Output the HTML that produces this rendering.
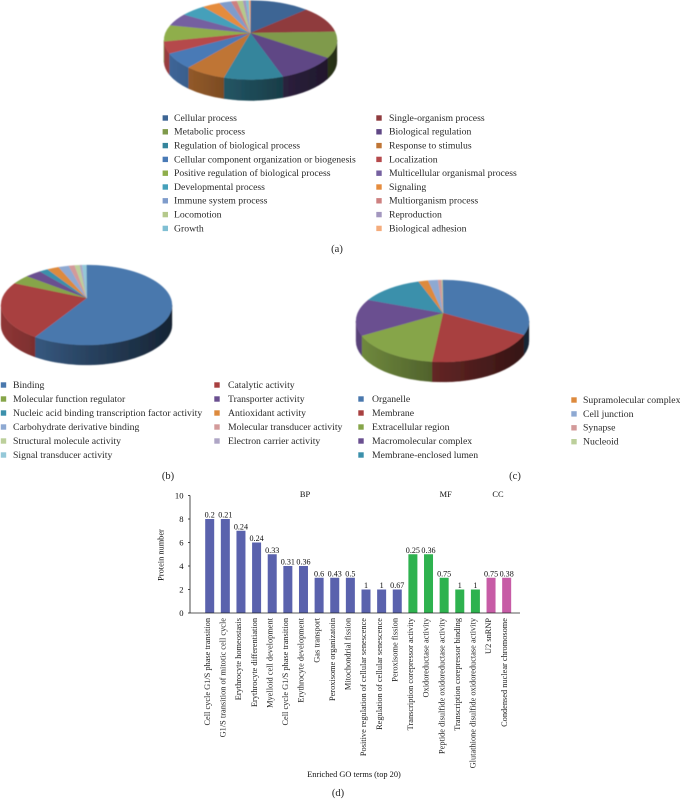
<!DOCTYPE html>
<html lang="en">
<head>
<meta charset="utf-8">
<title>GO enrichment charts</title>
<style>
html,body{margin:0;padding:0;background:#fff;width:680px;height:809px;overflow:hidden}
svg{display:block;font-family:"Liberation Serif",serif;fill:#222}
</style>
</head>
<body>
<svg id="fig" xmlns="http://www.w3.org/2000/svg" width="680" height="809" viewBox="0 0 680 809">
<defs>
<filter id="soft" x="-5%" y="-5%" width="110%" height="110%"><feGaussianBlur stdDeviation="0.45"/></filter>
<filter id="softText" x="-5%" y="-5%" width="110%" height="110%"><feGaussianBlur stdDeviation="0.25"/></filter>
</defs>
<g id="pies" filter="url(#soft)"></g>
<g id="texts" filter="url(#softText)"></g>
</svg>
<script>
// Pie (a): biological process
const bpNames = ["Cellular process","Single-organism process","Metabolic process","Biological regulation","Regulation of biological process","Response to stimulus","Cellular component organization or biogenesis","Localization","Positive regulation of biological process","Multicellular organismal process","Developmental process","Signaling","Immune system process","Multiorganism process","Locomotion","Reproduction","Growth","Biological adhesion"];
const bpValues = [40,38,39,41,40,28,24,18,24,18,17,12,8,4,4,2,2,1];
const bpColors = ["#3c6594","#8f3b3d","#7f9a4c","#5f4785","#36859c","#bf7436","#4a7ab6","#b5484b","#8fae4c","#7560a0","#44a0ba","#e58c3e","#7f9ccb","#cd8080","#b5c98c","#a397bf","#80bfd3","#f4ac7c"];
// Pie (b): molecular function
const mfNames = ["Binding","Catalytic activity","Molecular function regulator","Transporter activity","Nucleic acid binding transcription factor activity","Antioxidant activity","Carbohydrate derivative binding","Molecular transducer activity","Structural molecule activity","Electron carrier activity","Signal transducer activity"];
const mfValues = [217,86,13,11,6,8,7,4,3.5,1.5,3];
// Pie (c): cellular component
const ccNames = ["Organelle","Membrane","Extracellular region","Macromolecular complex","Membrane-enclosed lumen","Supramolecular complex","Cell junction","Synapse","Nucleoid"];
const ccValues = [110,77,62,52,43,6.5,6.5,2.5,0.5];
const baseColors = ["#4a78ad","#a8403f","#86a54a","#6a4f90","#3a90ab","#dd8a3c","#8ea9d2","#d39a9a","#bccf9b","#aea5c5","#94c8d8"];
// Bar chart (d)
const goTerms = ["Cell cycle G1/S phase transition","G1/S transition of mitotic cell cycle","Erythrocyte homeostasis","Erythrocyte differentiation","Myelloid cell development","Cell cycle G1/S phase transition","Erythrocyte development","Gas transport","Peroxisome organizatoin","Mitochondrial fission","Positive regulation of cellular senescence","Regulation of cellular senescence","Peroxisome fission","Transcription corepressor activity","Oxidoreductase activity","Peptide disulfide oxidoreductase activity","Transcription corepressor binding","Glutathione disulfide oxidoreductase activity","U2 snRNP","Condensed nuclear chromosome"];
const proteinCounts = [8,8,7,6,5,4,4,3,3,3,2,2,2,5,5,3,2,2,3,3];
const ratioLabels = ["0.2","0.21","0.24","0.24","0.33","0.31","0.36","0.6","0.43","0.5","1","1","0.67","0.25","0.36","0.75","1","1","0.75","0.38"];
const termGroups = ["BP","BP","BP","BP","BP","BP","BP","BP","BP","BP","BP","BP","BP","MF","MF","MF","MF","MF","CC","CC"];
const yTicks = [0,2,4,6,8,10];

const NS = "http://www.w3.org/2000/svg";
const svg = document.getElementById("fig");
const defs = svg.querySelector("defs");
const pies = document.getElementById("pies");
const root = document.getElementById("texts");
let gradId = 0;

function make(tag, parent, attrs, text) {
  const el = document.createElementNS(NS, tag);
  for (const k in attrs) el.setAttribute(k, attrs[k]);
  if (text !== undefined) el.textContent = text;
  parent.appendChild(el);
  return el;
}
function slug(s) {
  return s.toLowerCase().replace(/[^a-z0-9]+/g, "-").replace(/^-|-$/g, "");
}
function shade(hex, f) {
  const n = parseInt(hex.slice(1), 16);
  const c = [n >> 16, (n >> 8) & 255, n & 255].map(v => Math.round(v * f));
  return "rgb(" + c.join(",") + ")";
}
function drawPie(name, values, colors, g) {
  const total = values.reduce((a, b) => a + b, 0);
  const pt = t => {
    const r = t * Math.PI / 180;
    return [g.cx + g.rx * Math.sin(r), g.cy - g.ry * Math.cos(r)];
  };
  const group = make("g", pies, {});
  
  
  let acc = 0;
  const spans = values.map(v => {
    const s = [acc / total * 360, (acc + v) / total * 360];
    acc += v;
    return s;
  });
  spans.forEach((s, i) => {
    const a = Math.max(s[0], 90), b = Math.min(s[1], 270);
    if (b <= a) return;
    const p0 = pt(a), p1 = pt(b);
    const id = "sideGrad" + (gradId++);
    const lg = make("linearGradient", defs, {id: id, gradientUnits: "userSpaceOnUse", x1: g.cx - g.rx, x2: g.cx + g.rx, y1: 0, y2: 0});
    make("stop", lg, {offset: "0", "stop-color": shade(colors[i], 0.85)});
    make("stop", lg, {offset: "0.5", "stop-color": shade(colors[i], 0.56)});
    make("stop", lg, {offset: "1", "stop-color": shade(colors[i], 0.3)});
    const d = "M" + p0 + "A" + g.rx + " " + g.ry + " 0 0 1 " + p1 + "L" + p1[0] + " " + (p1[1] + g.depth) +
      "A" + g.rx + " " + g.ry + " 0 0 0 " + p0[0] + " " + (p0[1] + g.depth) + "Z";
    const side = make("path", group, {d: d, fill: "url(#" + id + ")", stroke: "url(#" + id + ")", "stroke-width": 0.3});
    
    
  });
  spans.forEach((s, i) => {
    const p0 = pt(s[0]), p1 = pt(s[1]);
    const large = s[1] - s[0] > 180 ? 1 : 0;
    const d = "M" + g.ax + " " + g.ay + "L" + p0 + "A" + g.rx + " " + g.ry + " 0 " + large + " 1 " + p1 + "Z";
    const top = make("path", group, {d: d, fill: colors[i], stroke: colors[i], "stroke-width": 0.25});
    
    
  });
}
function legend(names, colors, indices, swatchX, textX, startY, step) {
  indices.forEach((idx, row) => {
    const y = startY + row * step;
    const e = make("g", root, {});
    
    
    make("rect", e, {x: swatchX - 2.7, y: y - 2.7, width: 5.4, height: 5.4, fill: colors[idx]});
    make("text", e, {x: textX, y: y + 2.9, "font-size": 9.72, fill: "#2a2a2a"}, names[idx]);
  });
}
function caption(label, x, y) {
  const c = make("text", root, {x: x, y: y, "font-size": 10.5, "text-anchor": "middle"}, label);
  
  
}

drawPie("pie-biological-process", bpValues, bpColors, {cx: 250.5, cy: 40, rx: 86.5, ry: 39.5, ax: 250.3, ay: 33, depth: 21});
drawPie("pie-molecular-function", mfValues, baseColors, {cx: 86.5, cy: 305, rx: 85.5, ry: 40, ax: 86.7, ay: 298, depth: 20});
drawPie("pie-cellular-component", ccValues, baseColors, {cx: 442.5, cy: 321, rx: 86.5, ry: 41, ax: 443, ay: 313, depth: 20});

legend(bpNames, bpColors, [0,2,4,6,8,10,12,14,16], 165.3, 174, 118, 13.8);
legend(bpNames, bpColors, [1,3,5,7,9,11,13,15,17], 379, 389, 118, 13.8);
legend(mfNames, baseColors, [0,2,4,6,8,10], 3.5, 13, 385, 14);
legend(mfNames, baseColors, [1,3,5,7,9], 217, 228, 385, 14);
legend(ccNames, baseColors, [0,1,2,3,4], 361, 372, 399, 14);
legend(ccNames, baseColors, [5,6,7,8], 574, 583, 400, 13.9);

caption("(a)", 337, 252);
caption("(b)", 168, 479);
caption("(c)", 515, 479);
caption("(d)", 338, 796);

// Bar chart axis functions
const xBar = i => 209.7 + i * 15.63;
const yVal = v => 613 - v * 11.75;
const groupColor = {BP: "#5a62ad", MF: "#2fb24f", CC: "#c75ba6"};

const chart = make("g", root, {});



proteinCounts.forEach((v, i) => {
  const bar = make("rect", chart, {x: xBar(i) - 4.5, y: yVal(v), width: 9, height: yVal(0) - yVal(v), fill: groupColor[termGroups[i]]});
  
  
  const val = make("text", chart, {x: xBar(i), y: yVal(v) - 1.5, "font-size": 8.1, "text-anchor": "middle", fill: "#111"}, ratioLabels[i]);
  
  
  const tx = xBar(i) + 0.2, ty = 618;
  const lab = make("text", chart, {transform: "translate(" + tx + " " + ty + ") rotate(-90)", "font-size": 8.35, "text-anchor": "end", fill: "#222"}, goTerms[i]);
  
  
});

const yAxis = make("line", chart, {x1: 190, x2: 190, y1: yVal(10), y2: yVal(0), stroke: "#222", "stroke-width": 0.8});


const xAxis = make("line", chart, {x1: 190, x2: 520, y1: yVal(0), y2: yVal(0), stroke: "#222", "stroke-width": 0.8});



yTicks.forEach(t => {
  const tick = make("line", chart, {x1: 188, x2: 190, y1: yVal(t), y2: yVal(t), stroke: "#222", "stroke-width": 0.8});
  
  
  const lbl = make("text", chart, {x: 183.5, y: yVal(t) + 3, "font-size": 8.6, "text-anchor": "end", fill: "#111"}, t);
  
  
});

const yTitle = make("text", chart, {transform: "translate(163.5 555) rotate(-90)", "font-size": 8.35, "text-anchor": "middle", fill: "#111"}, "Protein number");


const xTitle = make("text", chart, {x: 354, y: 777, "font-size": 8.35, "text-anchor": "middle", fill: "#111"}, "Enriched GO terms (top 20)");



[["BP", 305], ["MF", 445.7], ["CC", 498]].forEach(h => {
  const g = make("text", chart, {x: h[1], y: 497, "font-size": 8.4, "text-anchor": "middle", fill: "#111"}, h[0]);
  
  
});
</script>
</body>
</html>
